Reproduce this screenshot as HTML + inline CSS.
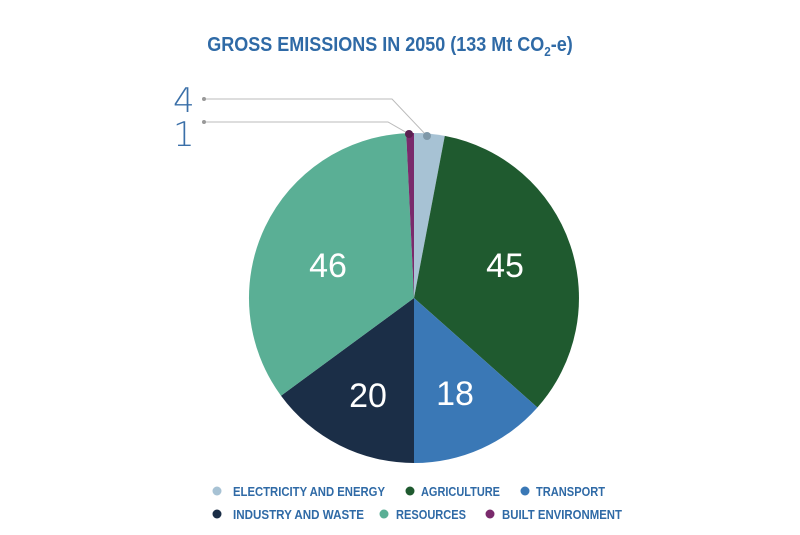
<!DOCTYPE html>
<html><head><meta charset="utf-8"><style>
body{margin:0;background:#fff;width:800px;height:530px;overflow:hidden}
</style></head><body>
<svg width="800" height="530" xmlns="http://www.w3.org/2000/svg">
<g transform="translate(390,0) scale(0.9,1) translate(-390,0)">
<text x="390" y="51" text-anchor="middle" font-family="'Liberation Sans',sans-serif" font-weight="bold" font-size="20" fill="#2f6aa6">GROSS EMISSIONS IN 2050 (133 Mt CO<tspan font-size="13" dy="5">2</tspan><tspan dy="-5">-e)</tspan></text>
</g>
<g stroke="none">
<path d="M414,298 L414,133 A165,165 0 0 1 444.8,135.9 Z" fill="#a7c2d4"/>
<path d="M414,298 L444.8,135.9 A165,165 0 0 1 537.4,407.5 Z" fill="#1f5a2f"/>
<path d="M414,298 L537.4,407.5 A165,165 0 0 1 414,463 Z" fill="#3a78b6"/>
<path d="M414,298 L414,463 A165,165 0 0 1 281,395.7 Z" fill="#1b2e47"/>
<path d="M414,298 L281,395.7 A165,165 0 0 1 406.2,133.2 Z" fill="#5aaf95"/>
<path d="M414,298 L406.2,133.2 A165,165 0 0 1 414,133 Z" fill="#7a2a6c"/>
</g>
<g fill="none" stroke="#bbb" stroke-width="1">
<polyline points="204,99 392,99 427,136"/>
<polyline points="204,122 388,122 409,134"/>
</g>
<circle cx="204" cy="99" r="2" fill="#999"/><circle cx="204" cy="122" r="2" fill="#999"/>
<circle cx="427" cy="136" r="4" fill="#7f98a8"/><circle cx="409" cy="134" r="4" fill="#5a2050"/>
<g font-family="'DejaVu Sans',sans-serif" font-weight="200" font-size="34" fill="#3a6fa8">
<text x="173" y="112">4</text><text x="173" y="146">1</text></g>
<g font-family="'Liberation Sans',sans-serif" font-size="34" fill="#fff" text-anchor="middle">
<text x="328" y="277">46</text><text x="505" y="277">45</text>
<text x="368" y="407">20</text><text x="455" y="405">18</text></g>
<g font-family="'Liberation Sans',sans-serif" font-weight="bold" font-size="13" fill="#2f6aa6" lengthAdjust="spacingAndGlyphs">
<circle cx="217" cy="491" r="4.5" fill="#a7c2d4"/><text x="233" y="496" textLength="152" lengthAdjust="spacingAndGlyphs">ELECTRICITY AND ENERGY</text>
<circle cx="410" cy="491" r="4.5" fill="#1f5a2f"/><text x="421" y="496" textLength="79" lengthAdjust="spacingAndGlyphs">AGRICULTURE</text>
<circle cx="525" cy="491" r="4.5" fill="#3a78b6"/><text x="536" y="496" textLength="69" lengthAdjust="spacingAndGlyphs">TRANSPORT</text>
<circle cx="217" cy="514" r="4.5" fill="#1b2e47"/><text x="233" y="519" textLength="131" lengthAdjust="spacingAndGlyphs">INDUSTRY AND WASTE</text>
<circle cx="384" cy="514" r="4.5" fill="#5aaf95"/><text x="396" y="519" textLength="70" lengthAdjust="spacingAndGlyphs">RESOURCES</text>
<circle cx="490" cy="514" r="4.5" fill="#7a2a6c"/><text x="502" y="519" textLength="120" lengthAdjust="spacingAndGlyphs">BUILT ENVIRONMENT</text>
</g>
</svg>
</body></html>
